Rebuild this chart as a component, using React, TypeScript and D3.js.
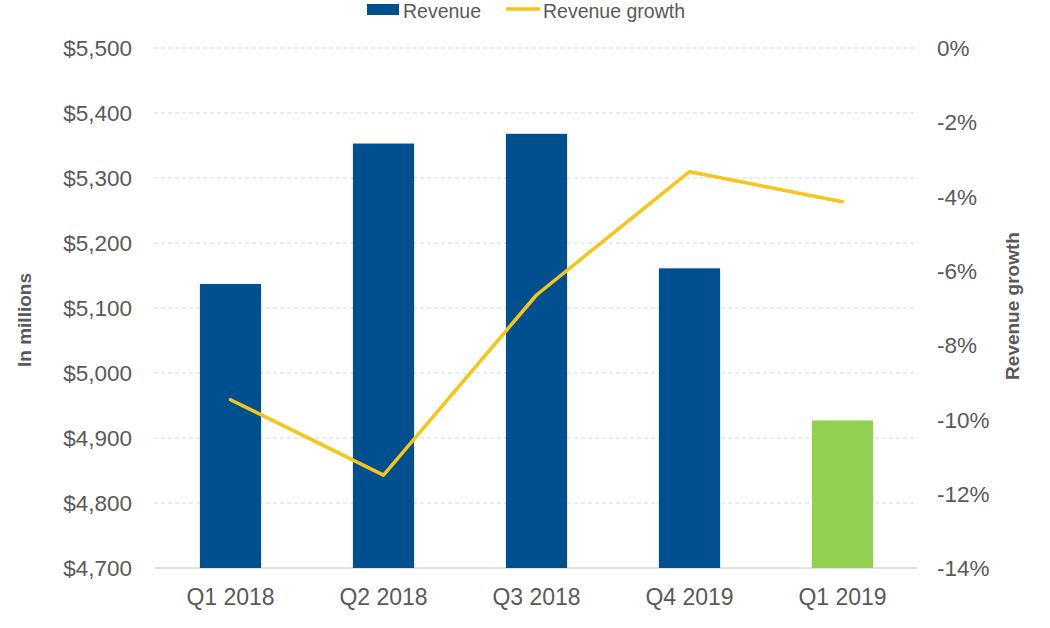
import React from "react";
import * as d3 from "d3";

const categories = ["Q1 2018", "Q2 2018", "Q3 2018", "Q4 2019", "Q1 2019"];
const revenue = [5137, 5353, 5368, 5161, 4927];
const revenueGrowth = [-9.47, -11.5, -6.65, -3.33, -4.14];
const leftTicks = [4700, 4800, 4900, 5000, 5100, 5200, 5300, 5400, 5500];
const rightTicks = [0, -2, -4, -6, -8, -10, -12, -14];

const W = 1050;
const H = 628;
const plotLeft = 154;
const plotRight = 919;
const plotTop = 48;
const plotBottom = 568;
const textColor = "#595959";
const font = "'Liberation Sans', Arial, sans-serif";

export default function App() {
  const x = d3.scaleBand<string>().domain(categories).range([plotLeft, plotRight]).paddingInner(0.6).paddingOuter(0.3);
  const yL = d3.scaleLinear().domain([4700, 5500]).range([plotBottom, plotTop]);
  const yR = d3.scaleLinear().domain([-14, 0]).range([plotBottom, plotTop]);
  const fmt = d3.format(",");
  const line = d3
    .line<number>()
    .x((_, i) => (x(categories[i]) as number) + x.bandwidth() / 2)
    .y((d) => yR(d));

  return (
    <svg width={W} height={H} style={{ position: "absolute", left: 0, top: 0, background: "#fff" }} fontFamily={font}>
      {leftTicks.slice(1).map((t) => (
        <line key={t} x1={plotLeft} x2={plotRight - 1} y1={yL(t)} y2={yL(t)} stroke="#D9D9D9" strokeWidth={1} strokeDasharray="4,3" />
      ))}
      <line x1={plotLeft} x2={plotRight - 1} y1={plotBottom} y2={plotBottom} stroke="#D9D9D9" strokeWidth={1.5} />
      {leftTicks.map((t) => (
        <text key={t} x={132} y={yL(t)} dy="0.36em" textAnchor="end" fontSize={22.5} fill={textColor}>
          ${fmt(t)}
        </text>
      ))}
      {rightTicks.map((t) => (
        <text key={t} x={937} y={yR(t)} dy="0.36em" textAnchor="start" fontSize={22.5} fill={textColor}>
          {t}%
        </text>
      ))}
      {categories.map((c, i) => (
        <rect
          key={c}
          x={x(c)}
          y={yL(revenue[i])}
          width={x.bandwidth()}
          height={plotBottom - yL(revenue[i])}
          fill={i === categories.length - 1 ? "#92D050" : "#004F8E"}
        />
      ))}
      {categories.map((c) => (
        <text key={c} x={(x(c) as number) + x.bandwidth() / 2} y={605} textAnchor="middle" fontSize={23} fill={textColor}>
          {c}
        </text>
      ))}
      <path d={line(revenueGrowth) || ""} fill="none" stroke="#F5C518" strokeWidth={3.5} strokeLinejoin="round" strokeLinecap="round" />
      <text transform="translate(31,320) rotate(-90)" textAnchor="middle" fontSize={19} fontWeight="bold" fill={textColor}>
        In millions
      </text>
      <text transform="translate(1019,306) rotate(-90)" textAnchor="middle" fontSize={19} fontWeight="bold" fill={textColor}>
        Revenue growth
      </text>
      <rect x={367} y={4} width={32} height={11} fill="#004F8E" />
      <text x={403} y={18} fontSize={19.5} fill={textColor}>Revenue</text>
      <line x1={506} x2={540} y1={9} y2={9} stroke="#F5C518" strokeWidth={3.5} />
      <text x={543} y={18} fontSize={19.5} fill={textColor}>Revenue growth</text>
    </svg>
  );
}
